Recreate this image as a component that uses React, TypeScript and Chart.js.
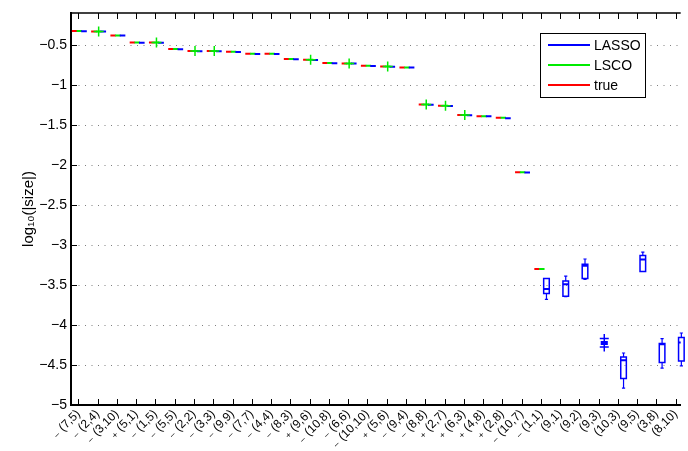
import { useEffect, useRef } from "react";
import { Chart, registerables } from "chart.js";

Chart.register(...registerables);

// ---------- data ----------
const categories = [
  "(7,5)", "(2,4)", "(3,10)", "(5,1)", "(1,5)", "(5,5)", "(2,2)", "(3,3)",
  "(9,9)", "(7,7)", "(4,4)", "(8,3)", "(9,6)", "(10,8)", "(6,6)", "(10,10)",
  "(5,6)", "(9,4)", "(8,8)", "(2,7)", "(6,3)", "(4,8)", "(2,8)", "(10,7)",
  "(1,1)", "(9,1)", "(9,2)", "(9,3)", "(10,3)", "(9,5)", "(3,8)", "(8,10)",
];
const signs = [
  "-", "-", "-", "+", "-", "-", "-", "-",
  "-", "-", "-", "-", "+", "-", "-", "-",
  "+", "-", "-", "+", "+", "+", "+", "-",
  "-", "", "", "", "", "", "", "",
];
const trueVals: (number | null)[] = [
  -0.325, -0.33, -0.38, -0.47, -0.47, -0.55, -0.575, -0.575,
  -0.585, -0.61, -0.61, -0.675, -0.685, -0.725, -0.73, -0.76,
  -0.77, -0.78, -1.245, -1.26, -1.375, -1.39, -1.41, -2.09,
  -3.3, null, null, null, null, null, null, null,
];
const lscoVals: (number | null)[] = [
  -0.325, -0.33, -0.38, -0.47, -0.47, -0.55, -0.575, -0.575,
  -0.585, -0.61, -0.61, -0.675, -0.685, -0.725, -0.73, -0.76,
  -0.77, -0.78, -1.245, -1.26, -1.375, -1.39, -1.41, -2.09,
  -3.3, null, null, null, null, null, null, null,
];
const lassoMed: (number | null)[] = [
  -0.327, -0.332, -0.382, -0.472, -0.472, -0.552, -0.577, -0.577,
  -0.587, -0.612, -0.612, -0.677, -0.687, -0.727, -0.732, -0.762,
  -0.772, -0.782, -1.247, -1.262, -1.377, -1.392, -1.415, -2.095,
  -3.55, -3.49, -3.26, -4.225, -4.44, -3.18, -4.24, -4.22,
];
const lassoQ1: (number | null)[] = [
  null, null, null, null, null, null, null, null,
  null, null, null, null, null, null, null, null,
  null, null, null, null, null, null, null, null,
  -3.605, -3.64, -3.42, -4.24, -4.67, -3.33, -4.47, -4.45,
];
const lassoQ3: (number | null)[] = [
  null, null, null, null, null, null, null, null,
  null, null, null, null, null, null, null, null,
  null, null, null, null, null, null, null, null,
  -3.42, -3.45, -3.24, -4.21, -4.4, -3.13, -4.23, -4.155,
];
const lassoLo: (number | null)[] = [
  null, null, null, null, null, null, null, null,
  null, null, null, null, null, null, null, null,
  null, null, null, null, null, null, null, null,
  -3.68, -3.645, -3.43, -4.24, -4.79, -3.33, -4.54, -4.51,
];
const lassoHi: (number | null)[] = [
  null, null, null, null, null, null, null, null,
  null, null, null, null, null, null, null, null,
  null, null, null, null, null, null, null, null,
  -3.42, -3.39, -3.175, -4.21, -4.35, -3.09, -4.17, -4.1,
];
const lscoOutlierCats = [1, 4, 6, 7, 12, 14, 16, 18, 19, 20];
const lscoOutlierVals = [-0.33, -0.47, -0.575, -0.575, -0.685, -0.73, -0.77, -1.245, -1.26, -1.375];
const lassoOutlierCats = [27, 27];
const lassoOutlierVals = [-4.17, -4.275];
const yTicks = [-5, -4.5, -4, -3.5, -3, -2.5, -2, -1.5, -1, -0.5];
const legendLabels = ["LASSO", "LSCO", "true"];

// ---------- styling ----------
const BLUE = "rgb(0,0,255)";
const GREEN = "rgb(0,235,0)";
const RED = "rgb(255,0,0)";
const FONT = '"Liberation Sans", Arial, Helvetica, "DejaVu Sans", sans-serif';
const OFF_TRUE = -0.2;
const OFF_LSCO = 0.05;
const OFF_LASSO = 0.29;
const X_MIN = -0.385;
const X_MAX = 31.256;

const toPoints = (vals: (number | null)[], off: number) =>
  vals
    .map((v, i) => (v == null ? null : { x: i + off, y: v }))
    .filter((p) => p !== null) as { x: number; y: number }[];

const fmtY = (v: number) => (v < 0 ? "\u2212" : "") + String(Math.abs(v));

const subSign = (s: string) => (s === "-" ? "\u208B " : s === "+" ? "\u208A " : "");

const boxPlugin = {
  id: "lassoBoxes",
  beforeDatasetsDraw(chart: any) {
    const { ctx, scales } = chart;
    const x = scales.x;
    const y = scales.y;
    ctx.save();
    ctx.strokeStyle = BLUE;
    ctx.lineWidth = 1.5;
    const hw = 2.8;
    const cw = 1.6;
    categories.forEach((_, i) => {
      const q1 = lassoQ1[i];
      const q3 = lassoQ3[i];
      if (q1 == null || q3 == null) return;
      const cx = x.getPixelForValue(i + OFF_LASSO);
      const y1 = y.getPixelForValue(q1);
      const y3 = y.getPixelForValue(q3);
      ctx.beginPath();
      ctx.rect(cx - hw, y3, hw * 2, y1 - y3);
      ctx.stroke();
      const lo = lassoLo[i];
      const hi = lassoHi[i];
      ctx.lineWidth = 1.2;
      if (lo != null && lo < q1) {
        const yl = y.getPixelForValue(lo);
        ctx.beginPath();
        ctx.moveTo(cx, y1);
        ctx.lineTo(cx, yl);
        ctx.moveTo(cx - cw, yl);
        ctx.lineTo(cx + cw, yl);
        ctx.stroke();
      }
      if (hi != null && hi > q3) {
        const yh = y.getPixelForValue(hi);
        ctx.beginPath();
        ctx.moveTo(cx, y3);
        ctx.lineTo(cx, yh);
        ctx.moveTo(cx - cw, yh);
        ctx.lineTo(cx + cw, yh);
        ctx.stroke();
      }
      ctx.lineWidth = 1.5;
    });
    ctx.restore();
  },
};

const framePlugin = {
  id: "frame",
  afterDraw(chart: any) {
    const { ctx, chartArea, scales } = chart;
    const x = scales.x;
    const y = scales.y;
    ctx.save();
    ctx.strokeStyle = "#000";
    ctx.lineWidth = 1.5;
    ctx.beginPath();
    ctx.moveTo(chartArea.left, chartArea.top);
    ctx.lineTo(chartArea.right, chartArea.top);
    ctx.stroke();
    ctx.lineWidth = 1;
    ctx.beginPath();
    x.ticks.forEach((t: any) => {
      const px = Math.round(x.getPixelForValue(t.value)) + 0.5;
      ctx.moveTo(px, chartArea.bottom);
      ctx.lineTo(px, chartArea.bottom - 6);
      ctx.moveTo(px, chartArea.top);
      ctx.lineTo(px, chartArea.top + 6);
    });
    y.ticks.forEach((t: any) => {
      const py = Math.round(y.getPixelForValue(t.value)) + 0.5;
      ctx.moveTo(chartArea.left, py);
      ctx.lineTo(chartArea.left + 6, py);
    });
    ctx.stroke();
    ctx.restore();
  },
};

const legendPlugin = {
  id: "boxLegend",
  afterDraw(chart: any) {
    const { ctx, chartArea } = chart;
    const left = Math.round(chartArea.right - 141);
    const top = Math.round(chartArea.top + 20);
    const w = 105;
    const h = 64;
    const colors = [BLUE, GREEN, RED];
    ctx.save();
    ctx.fillStyle = "#fff";
    ctx.fillRect(left, top, w, h);
    ctx.strokeStyle = "#000";
    ctx.lineWidth = 1;
    ctx.strokeRect(left + 0.5, top + 0.5, w, h);
    ctx.font = `14px ${FONT}`;
    ctx.textBaseline = "middle";
    ctx.textAlign = "left";
    legendLabels.forEach((lab, i) => {
      const ly = top + 12 + i * 20;
      ctx.strokeStyle = colors[i];
      ctx.lineWidth = 2;
      ctx.beginPath();
      ctx.moveTo(left + 8, ly);
      ctx.lineTo(left + 50, ly);
      ctx.stroke();
      ctx.fillStyle = "#000";
      ctx.fillText(lab, left + 54, ly + 1);
    });
    ctx.restore();
  },
};

export default function App() {
  const ref = useRef<HTMLCanvasElement | null>(null);

  useEffect(() => {
    document.body.style.margin = "0";
    if (!ref.current) return;
    const lscoOut = lscoOutlierCats.map((c, i) => ({ x: c + OFF_LSCO, y: lscoOutlierVals[i] }));
    const lassoOut = lassoOutlierCats.map((c, i) => ({ x: c + OFF_LASSO, y: lassoOutlierVals[i] }));
    const chart = new Chart(ref.current, {
      type: "scatter",
      data: {
        datasets: [
          {
            label: "LSCO outliers",
            data: lscoOut,
            pointStyle: "cross",
            pointRadius: 5,
            pointHoverRadius: 5,
            pointBorderColor: GREEN,
            pointBorderWidth: 1.5,
          },
          {
            label: "LASSO outliers",
            data: lassoOut,
            pointStyle: "cross",
            pointRadius: 4.5,
            pointHoverRadius: 4.5,
            pointBorderColor: BLUE,
            pointBorderWidth: 1.5,
          },
          {
            label: "LASSO",
            data: toPoints(lassoMed, OFF_LASSO),
            pointStyle: "line",
            pointRadius: 2.8,
            pointHoverRadius: 2.8,
            pointBorderColor: BLUE,
            pointBorderWidth: 2,
          },
          {
            label: "LSCO",
            data: toPoints(lscoVals, OFF_LSCO),
            pointStyle: "line",
            pointRadius: 2.7,
            pointHoverRadius: 2.7,
            pointBorderColor: GREEN,
            pointBorderWidth: 2,
          },
          {
            label: "true",
            data: toPoints(trueVals, OFF_TRUE),
            pointStyle: "line",
            pointRadius: 2.7,
            pointHoverRadius: 2.7,
            pointBorderColor: RED,
            pointBorderWidth: 2,
          },
        ],
      },
      options: {
        responsive: false,
        animation: false,
        events: [],
        layout: { padding: { top: 13, right: 0, left: 0, bottom: 0 } },
        plugins: { legend: { display: false }, tooltip: { enabled: false } },
        scales: {
          x: {
            type: "linear",
            min: X_MIN,
            max: X_MAX,
            afterBuildTicks: (s: any) => {
              s.ticks = categories.map((_, i) => ({ value: i }));
            },
            afterFit: (s: any) => {
              s.height = 46;
            },
            ticks: {
              autoSkip: false,
              minRotation: 45,
              maxRotation: 45,
              padding: 2,
              color: "#000",
              font: { family: FONT, size: 12 },
              callback: (v: any) => {
                const i = Math.round(Number(v));
                return subSign(signs[i]) + categories[i];
              },
            },
            grid: { display: true, drawOnChartArea: false, drawTicks: false },
            border: { display: true, color: "#000", width: 2 },
          },
          y: {
            type: "linear",
            min: -5,
            max: -0.1,
            afterBuildTicks: (s: any) => {
              s.ticks = yTicks.map((v) => ({ value: v }));
            },
            afterFit: (s: any) => {
              s.width = 71;
            },
            ticks: {
              padding: 4,
              color: "#000",
              font: { family: FONT, size: 14 },
              callback: (v: any) => fmtY(Number(v)),
            },
            grid: { color: "rgba(0,0,0,0.5)", lineWidth: 1, drawTicks: false },
            border: { display: true, color: "#000", width: 2, dash: [1, 5.5] },
            title: {
              display: true,
              text: "log\u2081\u2080(|size|)",
              color: "#000",
              font: { family: FONT, size: 15 },
              padding: { top: 20, bottom: 0 },
            },
          },
        },
      },
      plugins: [boxPlugin, framePlugin, legendPlugin],
    } as any);
    return () => chart.destroy();
  }, []);

  return (
    <div style={{ position: "fixed", left: 0, top: 0, width: 688, height: 451, background: "#fff" }}>
      <canvas ref={ref} width={688} height={451} style={{ display: "block" }} />
    </div>
  );
}
